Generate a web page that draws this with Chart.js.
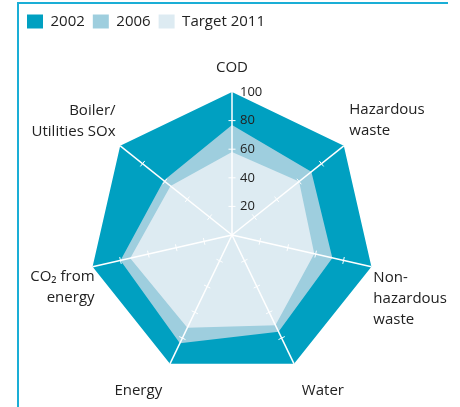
<!DOCTYPE html>
<html lang="en">

<head>
    <meta charset="UTF-8">
    <title>Radar</title>
    <style>
        body { margin: 0; background: #fff; }
        #wrap { position: relative; width: 460px; height: 407px; }
        #frame { position: absolute; left: 17px; top: 2px; width: 429px; height: 405px;
                 border-left: 2px solid #1aaed6; border-top: 2px solid #1aaed6; }
        #wrap canvas { position: absolute; left: 0; top: 0; }
    </style>
</head>

<body>
    <div id="wrap">
        <div id="frame"></div>
        <canvas id="myChart" width="460" height="407"></canvas>
    </div>

    <script src="https://cdn.jsdelivr.net/npm/chart.js"></script>

    <script>
        // axis names, clockwise from the top
        let v_labels = [
            'COD',
            ['Hazardous', 'waste'],
            ['Non-', 'hazardous', 'waste'],
            'Water',
            'Energy',
            ['CO\u2082 from', 'energy'],
            ['Boiler/', 'Utilities SOx']
        ];
        let v_2002 = [100, 100, 100, 100, 100, 100, 100];
        let v_2006 = [77, 71, 72, 75, 84, 80, 61];
        let v_target = [58, 60, 59, 70, 72, 73, 55];
        let v_ticks = [20, 40, 60, 80, 100];

        // extra gap between polygon and each axis name
        let v_labelPad = [14, 7, 2, 18, 18, -2, 6];

        const FONT = "'Open Sans', 'Noto Sans', sans-serif";

        // leave some room under the legend
        const legendGap = {
            id: 'legendGap',
            beforeInit(chart) {
                const fit = chart.legend.fit;
                chart.legend.fit = function () {
                    fit.bind(chart.legend)();
                    this.height += 12;
                };
            }
        };

        // white tick marks on every spoke + the value labels on the COD spoke
        const tickPlugin = {
            id: 'spokeTicks',
            afterDraw(chart) {
                const r = chart.scales.r;
                const ctx = chart.ctx;
                ctx.save();
                ctx.strokeStyle = '#ffffff';
                ctx.lineWidth = 1;
                for (let i = 0; i < v_labels.length; i++) {
                    const a = r.getIndexAngle(i) - Math.PI / 2;
                    const px = -Math.sin(a), py = Math.cos(a);
                    for (let k = 0; k < v_ticks.length - 1; k++) {
                        const p = r.getPointPositionForValue(i, v_ticks[k]);
                        ctx.beginPath();
                        ctx.moveTo(p.x - px * 3.5, p.y - py * 3.5);
                        ctx.lineTo(p.x + px * 3.5, p.y + py * 3.5);
                        ctx.stroke();
                    }
                }
                ctx.fillStyle = '#222';
                ctx.font = '13px ' + FONT;
                ctx.textAlign = 'left';
                ctx.textBaseline = 'middle';
                for (let k = 0; k < v_ticks.length; k++) {
                    const d = r.getDistanceFromCenterForValue(v_ticks[k]);
                    ctx.fillText(String(v_ticks[k]), r.xCenter + 8, r.yCenter - d);
                }
                ctx.restore();
            }
        };

        const ctx = document.getElementById('myChart');

        new Chart(ctx, {
            type: 'radar',
            data: {
                labels: v_labels,
                datasets: [{
                    label: '2002',
                    data: v_2002,
                    backgroundColor: '#00a0c1',
                    borderWidth: 0,
                    fill: true,
                    order: 2
                }, {
                    label: '2006',
                    data: v_2006,
                    backgroundColor: '#9ecede',
                    borderWidth: 0,
                    fill: true,
                    order: 1
                }, {
                    label: 'Target 2011',
                    data: v_target,
                    backgroundColor: '#ddebf2',
                    borderWidth: 0,
                    fill: true,
                    order: 0
                }]
            },
            plugins: [legendGap, tickPlugin],
            options: {
                responsive: false,
                animation: false,
                layout: {
                    padding: { left: 19, right: -9, top: 6, bottom: -2 }
                },
                elements: {
                    point: { radius: 0 },
                    line: { tension: 0 }
                },
                scales: {
                    r: {
                        min: 0,
                        max: 100,
                        grid: { display: false, z: 1 },
                        angleLines: { color: '#ffffff', lineWidth: 1.5 },
                        ticks: { display: false, stepSize: 20 },
                        pointLabels: {
                            color: '#222',
                            font: { family: FONT, size: 15, lineHeight: 1.4 },
                            padding: (c) => v_labelPad[c.index]
                        }
                    }
                },
                plugins: {
                    tooltip: { enabled: false },
                    legend: {
                        position: 'top',
                        align: 'start',
                        labels: {
                            color: '#222',
                            font: { family: FONT, size: 15 },
                            boxWidth: 16,
                            boxHeight: 14,
                            padding: 8,
                            sort: (a, b) => a.datasetIndex - b.datasetIndex
                        }
                    }
                }
            }
        });
    </script>
</body>

</html>
